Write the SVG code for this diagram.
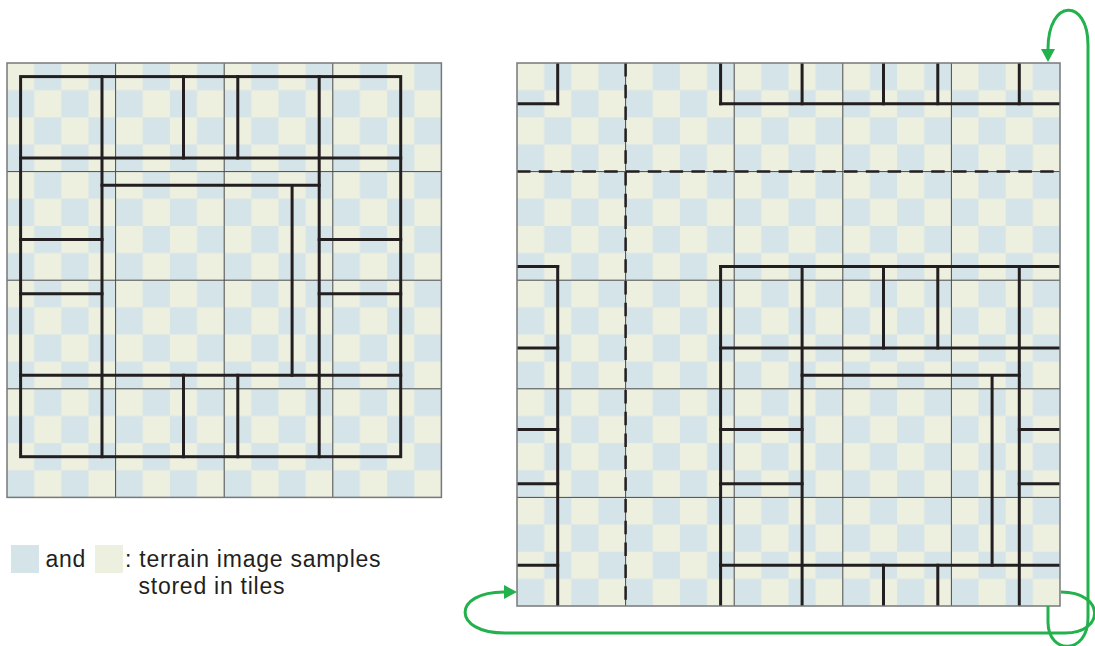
<svg xmlns="http://www.w3.org/2000/svg" width="1095" height="646" viewBox="0 0 1095 646">
<style>
.tile{stroke:#4a4a4a;stroke-width:1;fill:none}
.border{stroke:#77787b;stroke-width:1.5;fill:none}
.bold{stroke:#231f20;stroke-width:3;fill:none;stroke-linecap:square}
.dash{stroke:#231f20;stroke-width:2.5;fill:none;stroke-dasharray:13.5 8.3}
.wrap{stroke:#22b14c;stroke-width:3;fill:none}
.txt{font-family:"Liberation Sans",Arial,sans-serif;font-size:23px;fill:#231f20;letter-spacing:0.75px}
</style>
<defs>
<pattern id="chkL" patternUnits="userSpaceOnUse" x="7" y="63" width="54.3" height="54.3">
<rect width="54.3" height="54.3" fill="#edefdf"/>
<rect x="27.15" y="0" width="27.15" height="27.15" fill="#d5e4e9"/>
<rect x="0" y="27.15" width="27.15" height="27.15" fill="#d5e4e9"/>
</pattern>
<pattern id="chkR" patternUnits="userSpaceOnUse" x="517" y="63" width="54.3" height="54.3">
<rect width="54.3" height="54.3" fill="#edefdf"/>
<rect x="27.15" y="0" width="27.15" height="27.15" fill="#d5e4e9"/>
<rect x="0" y="27.15" width="27.15" height="27.15" fill="#d5e4e9"/>
</pattern>
<clipPath id="clipR"><rect x="517" y="63" width="543" height="543"/></clipPath>
<marker id="ah" viewBox="0 0 13 14" refX="0" refY="7" markerUnits="userSpaceOnUse" markerWidth="13" markerHeight="14" orient="auto">
<path d="M0,0 L13,7 L0,14 z" fill="#22b14c"/>
</marker>
</defs>

<g id="left-grid">
<rect x="7" y="63" width="434.4" height="434.4" fill="url(#chkL)"/>
<path class="tile" d="M115.6,63V497.4M224.2,63V497.4M332.8,63V497.4M7,171.6H441.4M7,280.2H441.4M7,388.8H441.4"/>
<rect class="border" x="7" y="63" width="434.4" height="434.4"/>
<g id="left-structure">
<rect class="bold" x="20.6" y="76.6" width="380.1" height="380.1"/>
<path class="bold" d="M20.6,158H400.7M20.6,375.2H400.7M102,76.6V456.7M319.2,76.6V456.7"/>
<path class="bold" d="M183.5,76.6V158M237.8,76.6V158M183.5,375.2V456.7M237.8,375.2V456.7"/>
<path class="bold" d="M20.6,239.5H102M20.6,293.8H102M319.2,239.5H400.7M319.2,293.8H400.7"/>
<path class="bold" d="M102,185.2H319.2M292.1,185.2V375.2"/>
</g>
</g>

<g id="right-grid">
<rect x="517" y="63" width="543" height="543" fill="url(#chkR)"/>
<path class="tile" d="M625.6,63V606M734.2,63V606M842.8,63V606M951.4,63V606M517,171.6H1060M517,280.2H1060M517,388.8H1060M517,497.4H1060"/>
<path class="dash" d="M625.6,63V606M517,171.6H1060"/>
<g id="right-structure" clip-path="url(#clipR)">
<path class="bold" d="M720.6,266.6H1062M515,266.6H557.7M720.6,103.7H1062M515,103.7H557.7"/>
<path class="bold" d="M720.6,266.6V608M720.6,61V103.7M557.7,266.6V608M557.7,61V103.7"/>
<path class="bold" d="M720.6,348.1H1062M515,348.1H557.7M720.6,565.3H1062M515,565.3H557.7"/>
<path class="bold" d="M802.1,266.6V608M802.1,61V103.7M1019.3,266.6V608M1019.3,61V103.7"/>
<path class="bold" d="M883.5,266.6V348.1M937.8,266.6V348.1"/>
<path class="bold" d="M883.5,565.3V608M937.8,565.3V608M883.5,61V103.7M937.8,61V103.7"/>
<path class="bold" d="M720.6,429.5H802.1M720.6,483.8H802.1"/>
<path class="bold" d="M1019.3,429.5H1062M1019.3,483.8H1062M515,429.5H557.7M515,483.8H557.7"/>
<path class="bold" d="M802.1,375.2H1019.3M992.1,375.2V565.3"/>
</g>
<rect class="border" x="517" y="63" width="543" height="543"/>
</g>

<g id="connectors">
<path id="wrap-vertical" class="wrap" marker-end="url(#ah)" d="M1048,606 V622 C1048,655 1088,655 1088,618 V45 C1088,-2 1048,-2 1048,49"/>
<path id="wrap-horizontal" class="wrap" marker-end="url(#ah)" d="M1061,592 C1105,592 1105,633 1065,633 H505 C452,633 452,592 504,592"/>
</g>

<g id="legend">
<rect x="11" y="545" width="28" height="28" fill="#d5e4e9"/>
<rect x="95" y="545" width="28" height="28" fill="#edefdf"/>
<text class="txt" x="45.5" y="566.5">and</text>
<text class="txt" x="125" y="566.5">: terrain image samples</text>
<text class="txt" x="138.5" y="594">stored in tiles</text>
</g>
</svg>
